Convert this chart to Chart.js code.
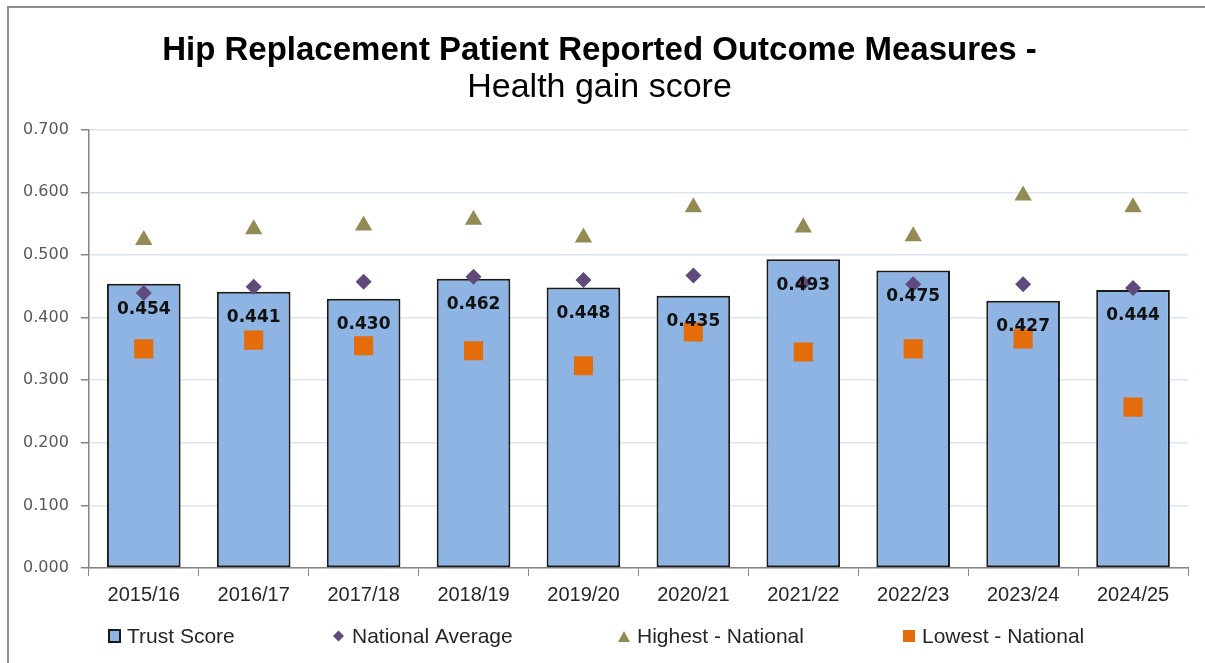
<!DOCTYPE html>
<html>
<head>
<meta charset="utf-8">
<script src="https://cdn.jsdelivr.net/npm/chart.js@4.4.1/dist/chart.umd.min.js"></script>
<style>
  html, body { margin: 0; padding: 0; background: #fff; }
  #wrap { position: relative; width: 1205px; height: 663px; overflow: hidden; }
  #frame { position: absolute; left: 7px; top: 6px; width: 1220px; height: 700px;
           border-left: 2px solid #8c8c8c; border-top: 2px solid #8c8c8c; }
  canvas { position: absolute; left: 0; top: 0; }
</style>
</head>
<body>
<div id="wrap">
  <div id="frame"></div>
  <canvas id="promsChart" width="1205" height="663"></canvas>
</div>
<script>
const years = ['2015/16', '2016/17', '2017/18', '2018/19', '2019/20', '2020/21', '2021/22', '2022/23', '2023/24', '2024/25'];
const trustScore = [0.454, 0.441, 0.430, 0.462, 0.448, 0.435, 0.493, 0.475, 0.427, 0.444];
const nationalAverage = [0.439, 0.449, 0.457, 0.465, 0.460, 0.467, 0.455, 0.453, 0.453, 0.447];
const highestNational = [0.524, 0.541, 0.547, 0.556, 0.528, 0.576, 0.544, 0.530, 0.595, 0.576];
const lowestNational = [0.350, 0.364, 0.355, 0.347, 0.323, 0.377, 0.345, 0.350, 0.366, 0.257];
const yTicks = [0, 0.1, 0.2, 0.3, 0.4, 0.5, 0.6, 0.7];

const sansFont = "'Liberation Sans', Arial, sans-serif";

// bar value labels, drawn just under the top of each bar
const barLabels = {
  id: 'barLabels',
  afterDatasetsDraw(chart) {
    const ctx = chart.ctx;
    const meta = chart.getDatasetMeta(0);
    ctx.save();
    ctx.font = "bold 17px 'DejaVu Sans', Verdana, sans-serif";
    ctx.fillStyle = '#111';
    ctx.textAlign = 'center';
    ctx.textBaseline = 'middle';
    meta.data.forEach((bar, i) => {
      ctx.fillText(trustScore[i].toFixed(3), bar.x, bar.y + 26);
    });
    ctx.restore();
  }
};

// excel style legend with fixed columns
const legendX = [108, 333, 618, 903];
const excelLegend = {
  id: 'excelLegend',
  afterDraw(chart) {
    const ctx = chart.ctx;
    const y = 636;
    const items = chart.data.datasets;
    ctx.save();
    ctx.font = "21px " + sansFont;
    ctx.textBaseline = 'middle';
    items.forEach((ds, i) => {
      const x = legendX[i];
      let textX = x + 19;
      ctx.fillStyle = ds.legendColor;
      ctx.strokeStyle = '#1a1a1a';
      ctx.lineWidth = 2;
      if (i === 0) {
        ctx.fillRect(x + 1, y - 6, 11, 12);
        ctx.strokeRect(x + 1, y - 6, 11, 12);
      } else if (i === 1) {
        ctx.beginPath();
        ctx.moveTo(x + 5.5, y - 5.5); ctx.lineTo(x + 11, y); ctx.lineTo(x + 5.5, y + 5.5); ctx.lineTo(x, y);
        ctx.closePath(); ctx.fill();
      } else if (i === 2) {
        ctx.beginPath();
        ctx.moveTo(x + 6, y - 5); ctx.lineTo(x + 12, y + 6); ctx.lineTo(x, y + 6);
        ctx.closePath(); ctx.fill();
      } else {
        ctx.fillRect(x, y - 6, 12, 12);
      }
      ctx.fillStyle = '#262626';
      ctx.fillText(ds.label, textX, y + 1);
    });
    ctx.restore();
  }
};

new Chart(document.getElementById('promsChart'), {
  type: 'bar',
  data: {
    labels: years,
    datasets: [
      {
        label: 'Trust Score',
        data: trustScore,
        backgroundColor: '#8db4e2',
        borderColor: '#1a1a1a',
        borderWidth: 2,
        borderSkipped: false,
        categoryPercentage: 1,
        barPercentage: 0.67,
        legendColor: '#8db4e2',
        order: 4
      },
      {
        label: 'National Average',
        type: 'line',
        data: nationalAverage,
        showLine: false,
        pointStyle: 'rectRot',
        pointRadius: 8,
        pointBackgroundColor: '#604a7b',
        pointBorderColor: '#604a7b',
        pointBorderWidth: 0,
        legendColor: '#604a7b',
        order: 1
      },
      {
        label: 'Highest - National',
        type: 'line',
        data: highestNational,
        showLine: false,
        pointStyle: 'triangle',
        pointRadius: 10,
        pointBackgroundColor: '#948a54',
        pointBorderColor: '#948a54',
        pointBorderWidth: 0,
        legendColor: '#948a54',
        order: 2
      },
      {
        label: 'Lowest - National',
        type: 'line',
        data: lowestNational,
        showLine: false,
        pointStyle: 'rect',
        pointRadius: 13.5,
        pointBackgroundColor: '#e46c0a',
        pointBorderColor: '#e46c0a',
        pointBorderWidth: 0,
        legendColor: '#e46c0a',
        order: 3
      }
    ]
  },
  options: {
    responsive: false,
    animation: false,
    layout: { padding: { left: 11, right: 17, top: 0, bottom: 49 } },
    scales: {
      x: {
        offset: true,
        grid: {
          offset: true,
          drawOnChartArea: false,
          tickLength: 8,
          tickColor: '#868686'
        },
        border: { color: '#868686', width: 1.5 },
        ticks: {
          color: '#262626',
          font: { family: sansFont, size: 20 },
          padding: 7
        }
      },
      y: {
        min: 0,
        max: 0.7,
        afterBuildTicks: axis => { axis.ticks = yTicks.map(v => ({ value: v })); },
        grid: {
          color: '#dce6f2',
          lineWidth: 1.5,
          tickLength: 8,
          tickColor: '#868686'
        },
        border: { color: '#868686', width: 1.5 },
        ticks: {
          color: '#595959',
          font: { family: "'DejaVu Sans', Verdana, sans-serif", size: 16 },
          padding: 12,
          callback: v => Number(v).toFixed(3)
        }
      }
    },
    plugins: {
      legend: { display: false },
      tooltip: { enabled: false },
      title: {
        display: true,
        text: 'Hip Replacement Patient Reported Outcome Measures -',
        color: '#000',
        font: { family: sansFont, size: 33, weight: 'bold', lineHeight: 1.1 },
        padding: { top: 33, bottom: 0 }
      },
      subtitle: {
        display: true,
        text: 'Health gain score',
        color: '#000',
        font: { family: sansFont, size: 34, weight: 'normal', lineHeight: 1.1 },
        padding: { top: 0, bottom: 23 }
      }
    }
  },
  plugins: [barLabels, excelLegend]
});
</script>
</body>
</html>
